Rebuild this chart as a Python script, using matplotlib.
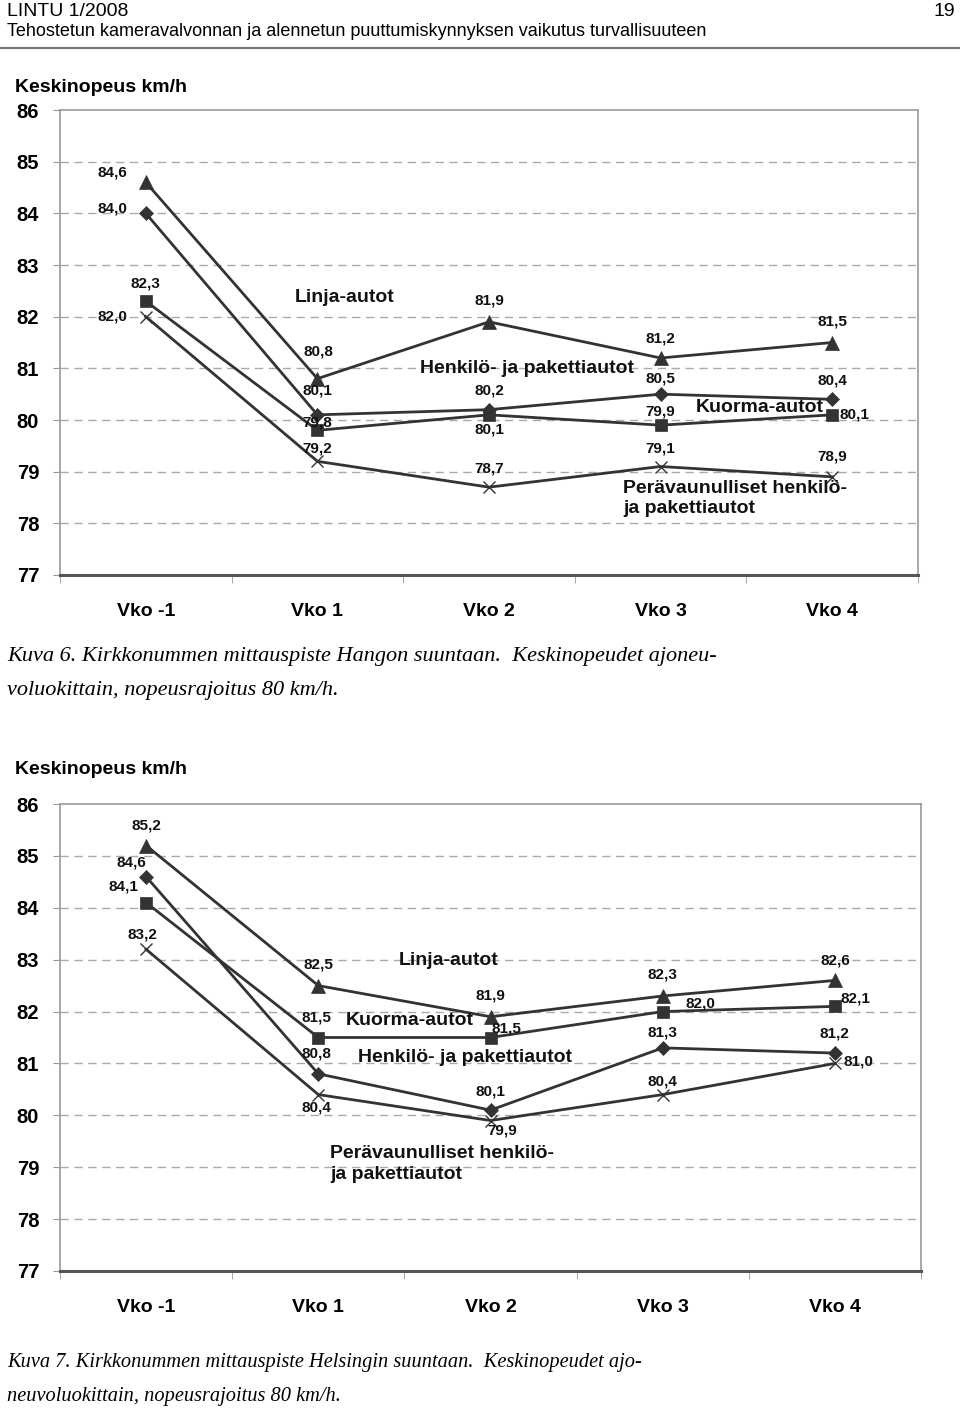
import matplotlib.pyplot as plt
from matplotlib.lines import Line2D

# categories and data (km/h)
weeks = ["Vko -1", "Vko 1", "Vko 2", "Vko 3", "Vko 4"]
y_ticks = [77, 78, 79, 80, 81, 82, 83, 84, 85, 86]

# Kuva 6 - Hangon suuntaan
hanko_linja = [84.6, 80.8, 81.9, 81.2, 81.5]
hanko_henkilo = [84.0, 80.1, 80.2, 80.5, 80.4]
hanko_kuorma = [82.3, 79.8, 80.1, 79.9, 80.1]
hanko_peravaunu = [82.0, 79.2, 78.7, 79.1, 78.9]

# Kuva 7 - Helsingin suuntaan
hki_linja = [85.2, 82.5, 81.9, 82.3, 82.6]
hki_henkilo = [84.6, 80.8, 80.1, 81.3, 81.2]
hki_kuorma = [84.1, 81.5, 81.5, 82.0, 82.1]
hki_peravaunu = [83.2, 80.4, 79.9, 80.4, 81.0]

names = ["Linja-autot", "Henkilö- ja pakettiautot", "Kuorma-autot",
         "Perävaunulliset henkilö-\nja pakettiautot"]

LINE = "#333333"
markers = [("^", 10), ("D", 7), ("s", 9), ("x", 9)]

# value label offsets in pixels (dx, dy)
hanko_offsets = [
    [(-33, 10), (1, 27), (0, 21), (0, 19), (0, 21)],
    [(-33, 5), (0, 24), (0, 19), (0, 16), (0, 19)],
    [(0, 18), (0, 8), (0, -15), (0, 14), (22, 0)],
    [(-33, 0), (0, 13), (0, 19), (0, 18), (0, 20)],
]
hki_offsets = [
    [(0, 20), (0, 21), (0, 21), (0, 21), (0, 20)],
    [(-15, 14), (-2, 20), (0, 19), (0, 15), (0, 20)],
    [(-23, 16), (-2, 20), (16, 9), (38, 8), (21, 8)],
    [(-4, 15), (-2, -13), (12, -10), (0, 13), (24, 2)],
]
# series name positions (x in category index, y in km/h), same order as names
hanko_names = [(1.16, 82.38, "center"), (2.22, 80.99, "center"),
               (3.58, 80.24, "center"), (2.78, 78.48, "left")]
hki_names = [(1.755, 82.99, "center"), (1.85, 81.12, "center"),
             (1.53, 81.82, "center"), (1.07, 79.06, "left")]

BOLD = dict(family="Liberation Sans", fontweight="bold")


def fmt(v):
    return f"{v:.1f}".replace(".", ",")


def draw_panel(ax, series, offsets, name_pos):
    x = list(range(len(weeks)))
    for s, (m, ms), offs in zip(series, markers, offsets):
        ax.plot(x, s, color=LINE, lw=2.0, marker=m, markersize=ms,
                markeredgewidth=1.0 if m == "x" else 0.5,
                markerfacecolor=LINE, markeredgecolor=LINE, zorder=3)
        for xi, v, (dx, dy) in zip(x, s, offs):
            ax.annotate(fmt(v), (xi, v), xytext=(dx, dy), textcoords="offset pixels",
                        ha="center", va="center", fontsize=11, color="#111111", **BOLD)
    for name, (nx, ny, ha) in zip(names, name_pos):
        ax.text(nx, ny, name, ha=ha, va="center", fontsize=14,
                linespacing=1.25, color="#111111", **BOLD)

    ax.set_xlim(-0.5, len(weeks) - 0.5)
    ax.set_ylim(77, 86)
    ax.set_yticks(y_ticks)
    ax.set_yticklabels([str(t) for t in y_ticks], fontsize=14.5, **BOLD)
    ax.set_xticks(x)
    ax.set_xticklabels(weeks, fontsize=14, **BOLD)
    ax.set_xticks([i - 0.5 for i in range(len(weeks) + 1)], minor=True)
    ax.tick_params(axis="x", which="major", length=0, pad=20)
    ax.tick_params(axis="x", which="minor", length=6, color="#999999")
    ax.tick_params(axis="y", length=5, pad=10, color="#999999")
    for yv in y_ticks[1:-1]:
        ax.axhline(yv, color="#aaaaaa", lw=1.0, ls=(0, (6, 4)), zorder=1)
    for side in ("left", "top", "right"):
        ax.spines[side].set_color("#999999")
        ax.spines[side].set_linewidth(1.2)
    ax.spines["bottom"].set_color("#555555")
    ax.spines["bottom"].set_linewidth(2.2)


fig = plt.figure(figsize=(9.6, 14.12), dpi=100)
H = 1412.0

# page header
hdr = dict(family="Liberation Sans", va="center")
fig.text(7 / 960, 1 - 11 / H, "LINTU 1/2008", ha="left", fontsize=14, **hdr)
fig.text(955 / 960, 1 - 11 / H, "19", ha="right", fontsize=14, **hdr)
fig.text(7 / 960, 1 - 31 / H, "Tehostetun kameravalvonnan ja alennetun puuttumiskynnyksen vaikutus turvallisuuteen",
         ha="left", fontsize=13, **hdr)
fig.add_artist(Line2D([0, 1], [1 - 48 / H, 1 - 48 / H], transform=fig.transFigure,
                      color="#777777", lw=1.6))

ax1 = fig.add_axes([60 / 960, 1 - 575 / H, 858 / 960, 465 / H])
draw_panel(ax1, [hanko_linja, hanko_henkilo, hanko_kuorma, hanko_peravaunu],
           hanko_offsets, hanko_names)
fig.text(15 / 960, 1 - 88 / H, "Keskinopeus km/h", ha="left", va="center", fontsize=14, **BOLD)

ax2 = fig.add_axes([60 / 960, 1 - 1271 / H, 861 / 960, 467 / H])
draw_panel(ax2, [hki_linja, hki_henkilo, hki_kuorma, hki_peravaunu],
           hki_offsets, hki_names)
fig.text(15 / 960, 1 - 770 / H, "Keskinopeus km/h", ha="left", va="center", fontsize=14, **BOLD)

# captions
cap = dict(family="Liberation Serif", style="italic", ha="left", va="center")
fig.text(7 / 960, 1 - 657 / H,
         "Kuva 6. Kirkkonummen mittauspiste Hangon suuntaan.  Keskinopeudet ajoneu-",
         fontsize=16, **cap)
fig.text(7 / 960, 1 - 690 / H, "voluokittain, nopeusrajoitus 80 km/h.", fontsize=16, **cap)
fig.text(7 / 960, 1 - 1362 / H,
         "Kuva 7. Kirkkonummen mittauspiste Helsingin suuntaan.  Keskinopeudet ajo-",
         fontsize=14.7, **cap)
fig.text(7 / 960, 1 - 1397 / H, "neuvoluokittain, nopeusrajoitus 80 km/h.", fontsize=14.7, **cap)

fig.savefig("out.png", dpi=100)
